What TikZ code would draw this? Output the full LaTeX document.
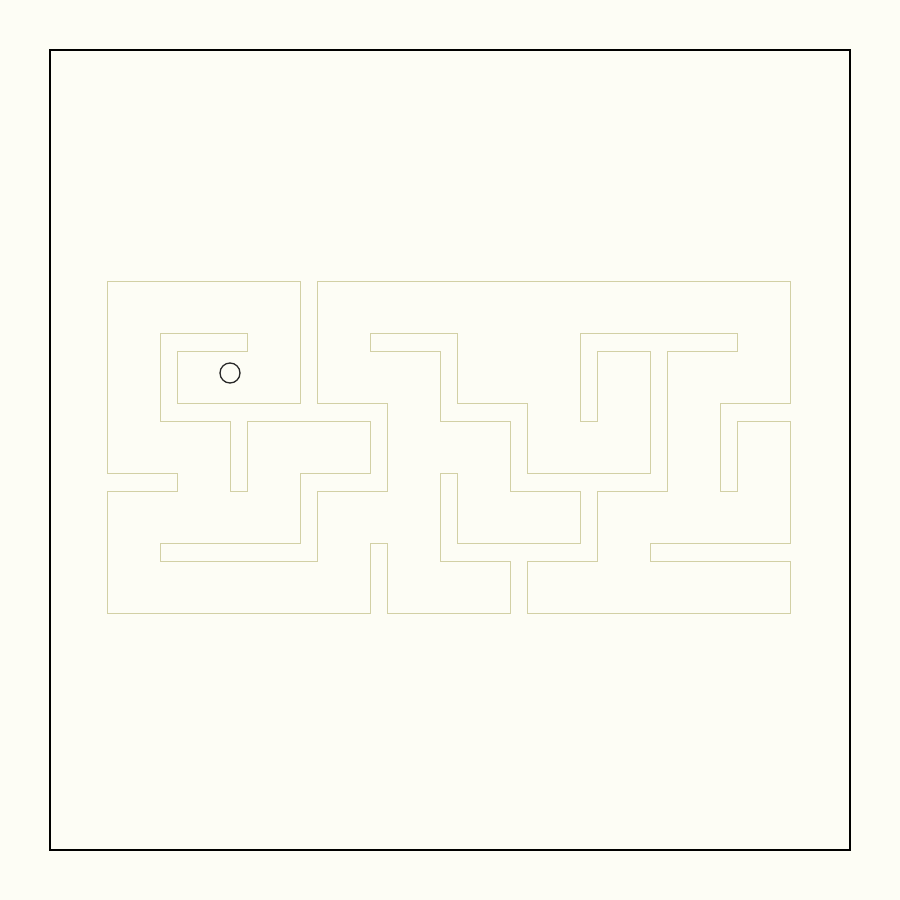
\documentclass[tikz,border=0pt]{standalone}
\usepackage{tikz}
\definecolor{paper}{RGB}{253,253,245}
\definecolor{mazeline}{RGB}{210,208,165}
\definecolor{balline}{RGB}{40,40,40}

\begin{document}
\begin{tikzpicture}[x=1pt,y=-1pt]
			\useasboundingbox (0,0) rectangle (900,900);
			\fill[paper] (0,0) rectangle (900,900);
			% frame
			\draw[line width=1.2pt] (50,50) rectangle (850,850);
			% maze walls
			\begin{scope}[shift={(107.5,281)},x=17.5pt,y=-17.5pt]
			\draw[mazeline,line width=1pt] (0,0) -- (11,0) -- (11,7) -- (4,7) -- (4,4) -- (8,4) -- (8,3) -- (3,3) -- (3,8) -- (7,8) -- (7,12) -- (8,12) -- (8,8) -- (15,8) -- (15,11) -- (11,11) -- (11,15) -- (3,15) -- (3,16) -- (12,16) -- (12,12) -- (16,12) -- (16,7) -- (12,7) -- (12,0)
				-- (39,0) -- (39,7) -- (35,7) -- (35,12) -- (36,12) -- (36,8) -- (39,8) -- (39,15) -- (31,15) -- (31,16) -- (39,16) -- (39,19)
				-- (24,19) -- (24,16) -- (28,16) -- (28,12) -- (32,12) -- (32,4) -- (36,4) -- (36,3) -- (27,3) -- (27,8) -- (28,8) -- (28,4) -- (31,4) -- (31,11) -- (24,11) -- (24,7) -- (20,7) -- (20,3) -- (15,3) -- (15,4) -- (19,4) -- (19,8) -- (23,8) -- (23,12) -- (27,12) -- (27,15) -- (20,15) -- (20,11) -- (19,11) -- (19,16) -- (23,16) -- (23,19)
				-- (16,19) -- (16,15) -- (15,15) -- (15,19) -- (0,19) -- (0,12) -- (4,12) -- (4,11) -- (0,11) -- cycle;
			\end{scope}
			% ball
			\node[circle,draw=balline,line width=1.3pt,minimum size=20pt,inner sep=0pt] (ball) at (230,373) {};
		\end{tikzpicture}
\end{document}
